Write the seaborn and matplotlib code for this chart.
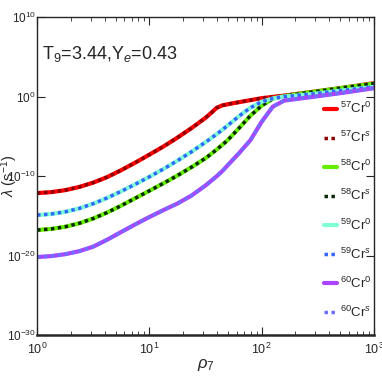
import numpy as np
import pandas as pd
import seaborn as sns
import matplotlib.pyplot as plt
from matplotlib.ticker import FixedLocator, NullLocator, LogFormatterMathtext

# log10(rho_7) grid and log10(lambda)
log_rho = [0, 0.125, 0.25, 0.375, 0.5, 0.625, 0.75, 0.875, 1.0, 1.125, 1.25, 1.375, 1.5,
           1.55, 1.6, 1.65, 1.7, 1.8, 1.9, 2.0, 2.1, 2.2, 2.4, 2.7, 3.0]
cr57 = [-12.14, -12.02, -11.77, -11.37, -10.82, -10.12, -9.25, -8.3, -7.3, -6.28, -5.16, -3.96, -2.67,
        -2.05, -1.4, -1.1, -0.95, -0.69, -0.44, -0.19, -0.03, 0.13, 0.50, 1.07, 1.70]
cr58 = [-16.79, -16.65, -16.38, -15.94, -15.34, -14.58, -13.71, -12.78, -11.85, -10.91, -9.93, -8.88, -7.75,
        -7.21, -6.65, -6.06, -5.44, -3.94, -2.39, -1.14, -0.25, 0.06, 0.50, 1.07, 1.64]
cr59 = [-14.91, -14.77, -14.50, -14.07, -13.47, -12.74, -11.91, -11.02, -10.09, -9.11, -8.06, -6.94, -5.73,
        -5.23, -4.71, -4.17, -3.60, -2.43, -1.39, -0.64, -0.23, 0.0, 0.25, 0.75, 1.23]
cr60 = [-20.19, -20.07, -19.83, -19.45, -18.88, -18.0, -17.03, -16.07, -15.15, -14.28, -13.45, -12.45, -11.18,
        -10.6, -10.01, -9.36, -8.6, -7.09, -5.47, -3.16, -1.25, -0.5, -0.13, 0.44, 1.07]

labels = ['$^{57}$Cr$^{0}$', '$^{57}$Cr$^{s}$', '$^{58}$Cr$^{0}$', '$^{58}$Cr$^{s}$',
          '$^{59}$Cr$^{0}$', '$^{59}$Cr$^{s}$', '$^{60}$Cr$^{0}$', '$^{60}$Cr$^{s}$']
colors = ['#ff0000', '#8b0000', '#66ee00', '#0a2a0a', '#7fffd4', '#3366ff', '#aa44ff', '#6f6fff']

sns.set_style('ticks')
plt.rcParams['font.family'] = ['Liberation Sans', 'DejaVu Sans']
plt.rcParams['mathtext.fontset'] = 'custom'
plt.rcParams['mathtext.rm'] = 'Liberation Sans'
plt.rcParams['mathtext.it'] = 'Liberation Sans:italic'
plt.rcParams['mathtext.sf'] = 'Liberation Sans'

rho = 10 ** np.array(log_rho)
series = [cr57, cr57, cr58, cr58, cr59, cr59, cr60, cr60]

fig = plt.figure(figsize=(3.82, 3.82), dpi=100)
ax = fig.add_axes([0.097, 0.123, 0.882, 0.832])

for i, (vals, lab, col) in enumerate(zip(series, labels, colors)):
    rate = 10 ** np.array(vals)
    if i % 2 == 0:
        sns.lineplot(x=rho, y=rate, color=col, lw=3, label=lab, ax=ax)
    else:
        sns.lineplot(x=rho, y=rate, color=col, lw=2.5, linestyle=(0, (1, 1)), label=lab, ax=ax)

ax.set_xscale('log')
ax.set_yscale('log')
ax.set_xlim(1, 1000)
ax.set_ylim(1e-30, 1e10)
ax.yaxis.set_major_locator(FixedLocator([1e-30, 1e-20, 1e-10, 1e0, 1e10]))
ax.yaxis.set_minor_locator(NullLocator())
ax.yaxis.set_major_formatter(LogFormatterMathtext())
ax.tick_params(which='both', direction='in', top=True, right=True, labelsize=9)
ax.tick_params(axis='y', labelsize=8.5, pad=1)
ax.tick_params(which='major', length=6)
ax.tick_params(which='minor', length=3)
ax.tick_params(axis='x', pad=5)
for s in ax.spines.values():
    s.set_linewidth(1.0)
ax.spines['bottom'].set_linewidth(1.8)

ax.set_xlabel(r'$\rho_7$', fontsize=12, labelpad=0)
ax.set_ylabel(r'$\lambda$ (s$^{-1}$)', fontsize=10.5)
ax.yaxis.set_label_coords(-0.052, 0.5)
ax.text(0.015, 0.87, 'T$_9$=3.44,Y$_e$=0.43', transform=ax.transAxes, fontsize=13)

ax.legend(loc='center right', bbox_to_anchor=(1.0, 0.392), frameon=False, fontsize=9.5,
          handlelength=1.0, handletextpad=0.2, labelspacing=1.05, borderpad=0.1, borderaxespad=0.1)

fig.savefig('out.png', dpi=100)
